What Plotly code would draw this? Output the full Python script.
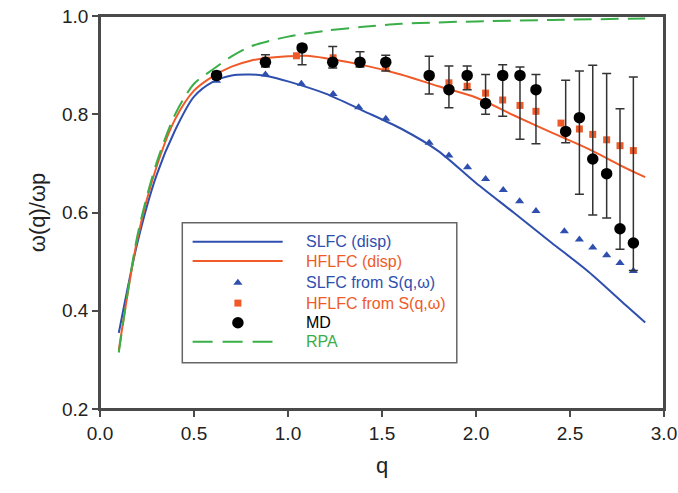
import plotly.graph_objects as go

# ---------------- data ----------------
slfc_q = [0.1, 0.2, 0.3, 0.4, 0.5, 0.6, 0.7, 0.8, 0.9, 1.0, 1.2, 1.4, 1.6, 1.8, 2.0, 2.2, 2.4, 2.6, 2.8, 2.9]
slfc_v = [0.355, 0.54, 0.675, 0.768, 0.836, 0.866, 0.879, 0.881, 0.877, 0.867, 0.842, 0.807, 0.771, 0.725, 0.66, 0.600, 0.539, 0.479, 0.410, 0.376]

hflfc_q = [0.1, 0.2, 0.3, 0.4, 0.5, 0.6, 0.7, 0.8, 0.9, 1.0, 1.1, 1.2, 1.4, 1.6, 1.8, 2.0, 2.2, 2.4, 2.6, 2.8, 2.9]
hflfc_v = [0.32, 0.548, 0.692, 0.79, 0.848, 0.877, 0.897, 0.909, 0.915, 0.918, 0.919, 0.914, 0.900, 0.881, 0.857, 0.834, 0.798, 0.763, 0.729, 0.690, 0.672]

rpa_q = [0.1, 0.2, 0.3, 0.4, 0.5, 0.6, 0.7, 0.8, 0.9, 1.0, 1.2, 1.4, 1.6, 1.8, 2.0, 2.4, 2.9]
rpa_v = [0.315, 0.555, 0.70, 0.80, 0.862, 0.891, 0.918, 0.938, 0.949, 0.958, 0.970, 0.978, 0.984, 0.987, 0.989, 0.992, 0.995]

slfc_s_q = [0.62, 0.88, 1.071, 1.24, 1.376, 1.52, 1.751, 1.856, 1.955, 2.051, 2.145, 2.232, 2.319, 2.47, 2.55, 2.621, 2.695, 2.766, 2.837]
slfc_s_v = [0.868, 0.881, 0.862, 0.841, 0.814, 0.791, 0.742, 0.716, 0.692, 0.668, 0.646, 0.623, 0.603, 0.562, 0.545, 0.529, 0.513, 0.497, 0.481]

hflfc_s_q = [0.62, 0.88, 1.045, 1.24, 1.38, 1.52, 1.751, 1.856, 1.953, 2.051, 2.142, 2.234, 2.319, 2.452, 2.55, 2.621, 2.695, 2.766, 2.837]
hflfc_s_v = [0.880, 0.910, 0.919, 0.915, 0.905, 0.895, 0.875, 0.864, 0.857, 0.843, 0.829, 0.818, 0.806, 0.782, 0.770, 0.759, 0.748, 0.736, 0.726]

md_q = [0.62, 0.88, 1.075, 1.238, 1.383, 1.52, 1.751, 1.856, 1.953, 2.051, 2.142, 2.234, 2.319, 2.477, 2.55, 2.621, 2.695, 2.766, 2.837]
md_v = [0.879, 0.906, 0.935, 0.906, 0.906, 0.906, 0.879, 0.850, 0.879, 0.822, 0.879, 0.879, 0.850, 0.765, 0.793, 0.709, 0.679, 0.567, 0.538]
md_upper = [0.887, 0.921, 0.942, 0.938, 0.927, 0.920, 0.918, 0.898, 0.898, 0.881, 0.901, 0.896, 0.881, 0.869, 0.888, 0.900, 0.883, 0.811, 0.876]
md_lower = [0.871, 0.896, 0.901, 0.894, 0.896, 0.888, 0.841, 0.813, 0.850, 0.800, 0.796, 0.749, 0.740, 0.742, 0.637, 0.595, 0.589, 0.525, 0.482]

x_ticks = [0.0, 0.5, 1.0, 1.5, 2.0, 2.5, 3.0]
y_ticks = [0.2, 0.4, 0.6, 0.8, 1.0]

legend_labels = ["SLFC (disp)", "HFLFC (disp)", "SLFC from S(q,ω)", "HFLFC from S(q,ω)", "MD", "RPA"]

BLUE = "#2f4fae"
RED = "#f05a28"
GREEN = "#3aae48"
BLACK = "#000000"
ERR = "#333333"
FONT = "Liberation Sans, Arial, sans-serif"

fig = go.Figure()

fig.add_trace(go.Scatter(x=slfc_q, y=slfc_v, mode="lines", line=dict(color=BLUE, width=2, shape="spline", smoothing=0.8), showlegend=False))
fig.add_trace(go.Scatter(x=hflfc_q, y=hflfc_v, mode="lines", line=dict(color=RED, width=2, shape="spline", smoothing=0.8), showlegend=False))
fig.add_trace(go.Scatter(x=rpa_q, y=rpa_v, mode="lines", line=dict(color=GREEN, width=2, dash="18px,9px", shape="spline", smoothing=0.8), showlegend=False))
fig.add_trace(go.Scatter(x=slfc_s_q, y=slfc_s_v, mode="markers", marker=dict(symbol="triangle-up", size=8, color=BLUE), showlegend=False))
fig.add_trace(go.Scatter(x=hflfc_s_q, y=hflfc_s_v, mode="markers", marker=dict(symbol="square", size=7, color=RED), showlegend=False))
fig.add_trace(go.Scatter(
    x=md_q, y=md_v, mode="markers",
    marker=dict(symbol="circle", size=11.5, color=BLACK),
    error_y=dict(type="data", symmetric=False,
                 array=[u - v for u, v in zip(md_upper, md_v)],
                 arrayminus=[v - l for v, l in zip(md_v, md_lower)],
                 color=ERR, thickness=1.5, width=4.5),
    showlegend=False))

# ---------------- hand-drawn legend (plot-area fractions) ----------------
lg_rows = [0.4254, 0.3763, 0.3211, 0.2695, 0.2194, 0.1711]
lg_x0, lg_x1, lg_xm, lg_xt = 0.1642, 0.3239, 0.2445, 0.3612
fig.add_shape(type="rect", xref="paper", yref="paper", x0=0.1459, x1=0.6326, y0=0.1177, y1=0.4737,
              line=dict(color="#666666", width=1.5), fillcolor="white", layer="below")
fig.add_trace(go.Scatter(x=[lg_x0, lg_x1], y=[lg_rows[0]] * 2, xaxis="x2", yaxis="y2", mode="lines",
                         line=dict(color=BLUE, width=2), showlegend=False, hoverinfo="skip"))
fig.add_trace(go.Scatter(x=[lg_x0, lg_x1], y=[lg_rows[1]] * 2, xaxis="x2", yaxis="y2", mode="lines",
                         line=dict(color=RED, width=2), showlegend=False, hoverinfo="skip"))
fig.add_trace(go.Scatter(x=[lg_xm], y=[lg_rows[2]], xaxis="x2", yaxis="y2", mode="markers",
                         marker=dict(symbol="triangle-up", size=8, color=BLUE), showlegend=False, hoverinfo="skip"))
fig.add_trace(go.Scatter(x=[lg_xm], y=[lg_rows[3]], xaxis="x2", yaxis="y2", mode="markers",
                         marker=dict(symbol="square", size=7, color=RED), showlegend=False, hoverinfo="skip"))
fig.add_trace(go.Scatter(x=[lg_xm], y=[lg_rows[4]], xaxis="x2", yaxis="y2", mode="markers",
                         marker=dict(symbol="circle", size=11.5, color=BLACK), showlegend=False, hoverinfo="skip"))
fig.add_trace(go.Scatter(x=[lg_x0, 0.3058], y=[lg_rows[5]] * 2, xaxis="x2", yaxis="y2", mode="lines",
                         line=dict(color=GREEN, width=2, dash="20px,10px"), showlegend=False, hoverinfo="skip"))

lg_colors = [BLUE, RED, BLUE, RED, BLACK, GREEN]
for lab, yy, col in zip(legend_labels, lg_rows, lg_colors):
    fig.add_annotation(x=lg_xt, y=yy, xref="paper", yref="paper", text=lab, showarrow=False,
                       xanchor="left", yanchor="middle", font=dict(size=16, color=col, family=FONT))

# plot frame (all four sides)
fig.add_shape(type="rect", xref="paper", yref="paper", x0=0, x1=1, y0=0, y1=1,
              line=dict(color="#4a4a4a", width=2), layer="above")

axis_common = dict(showline=True, linecolor="#4a4a4a", linewidth=1.5, mirror=True,
                   ticks="outside", ticklen=6, tickwidth=1.5, tickcolor="#4a4a4a",
                   showgrid=False, zeroline=False,
                   tickfont=dict(size=19, color="#222222", family=FONT))

fig.update_layout(
    width=678, height=493,
    margin=dict(l=100, r=14, t=16, b=84, autoexpand=False),
    paper_bgcolor="white", plot_bgcolor="white",
    font=dict(family=FONT, color="#222222"),
    xaxis=dict(range=[0, 3], tickvals=x_ticks, tickformat=".1f",
               title=dict(text="q", font=dict(size=22, color="#222222"), standoff=15), **axis_common),
    yaxis=dict(range=[0.2, 1.0], tickvals=y_ticks, tickformat=".1f",
               title=dict(text="ω(q)/ωp", font=dict(size=22, color="#222222"), standoff=10), **axis_common),
    xaxis2=dict(range=[0, 1], overlaying="x", visible=False, fixedrange=True),
    yaxis2=dict(range=[0, 1], overlaying="y", visible=False, fixedrange=True),
)

# remove the default page margin so the figure sits at the window's top-left corner
fig.write_html("out.html", config={"displayModeBar": False},
               post_script="document.body.style.margin='0';")
